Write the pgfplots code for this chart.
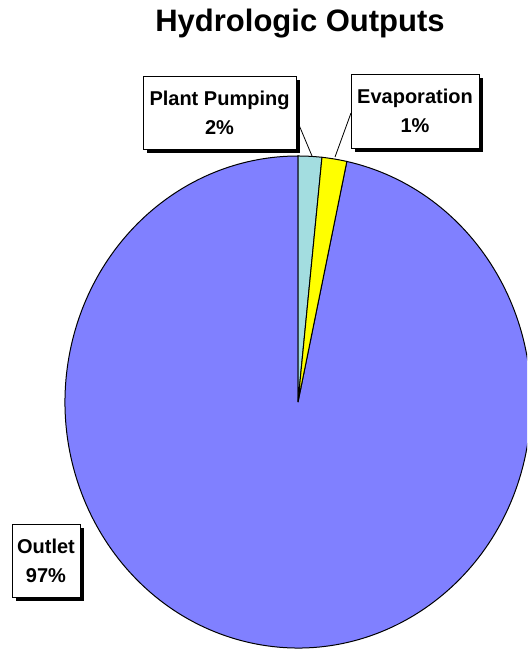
\documentclass[border=0pt]{standalone}
\usepackage{fontspec}
\setmainfont{Liberation Sans}
\usepackage{pgfplots}
\pgfplotsset{compat=1.18}
\definecolor{outletblue}{RGB}{128,128,255}
\definecolor{pumpcyan}{RGB}{163,221,224}
\definecolor{evapyellow}{RGB}{255,255,0}

% shares of the outputs (percent), clockwise from 12 o'clock
\def\vPump{1.64}
\def\vEvap{1.72}
\def\vOutlet{96.64}

\begin{document}
\begin{tikzpicture}
\pgfmathsetmacro{\aA}{90}
\pgfmathsetmacro{\aB}{\aA-\vPump*3.6}
\pgfmathsetmacro{\aC}{\aB-\vEvap*3.6}
\pgfmathsetmacro{\aD}{\aC-\vOutlet*3.6}
\begin{axis}[
  hide axis, scale only axis,
  width=527bp, height=650bp,
  xmin=0, xmax=527, ymin=0, ymax=650,
  clip=true,
]
% pie, slightly taller than wide as in the original
\filldraw[fill=outletblue, draw=black, line width=1bp]
  (axis cs:298,248) -- ++(\aC:233bp and 246bp)
  arc[start angle=\aC, end angle=\aD, x radius=233bp, y radius=246bp] -- cycle;
\filldraw[fill=pumpcyan, draw=black, line width=1bp]
  (axis cs:298,248) -- ++(\aA:233bp and 246bp)
  arc[start angle=\aA, end angle=\aB, x radius=233bp, y radius=246bp] -- cycle;
\filldraw[fill=evapyellow, draw=black, line width=1bp]
  (axis cs:298,248) -- ++(\aB:233bp and 246bp)
  arc[start angle=\aB, end angle=\aC, x radius=233bp, y radius=246bp] -- cycle;

% leader lines
\draw[line width=0.8bp] (axis cs:299,525) -- (axis cs:312,494);
\draw[line width=0.8bp] (axis cs:351,537) -- (axis cs:335,493);

% label boxes with shadows
\fill[black] (axis cs:147,497) rectangle (axis cs:300,570);
\filldraw[fill=white, draw=black, line width=0.8bp] (axis cs:143,501) rectangle (axis cs:296,574);
\fill[black] (axis cs:355,498) rectangle (axis cs:483,572);
\filldraw[fill=white, draw=black, line width=0.8bp] (axis cs:351,502) rectangle (axis cs:479,576);
\fill[black] (axis cs:16,49) rectangle (axis cs:84,122);
\filldraw[fill=white, draw=black, line width=0.8bp] (axis cs:12,53) rectangle (axis cs:80,126);

\node[align=center, font=\fontsize{20bp}{29bp}\selectfont\bfseries] at (axis cs:219.5,537.5) {Plant Pumping\\2\%};
\node[align=center, font=\fontsize{20bp}{29bp}\selectfont\bfseries] at (axis cs:415,539) {Evaporation\\1\%};
\node[align=center, font=\fontsize{20bp}{29bp}\selectfont\bfseries] at (axis cs:46,89.5) {Outlet\\97\%};

% title
\node[anchor=base, font=\fontsize{31bp}{36bp}\selectfont\bfseries] at (axis cs:300,618) {Hydrologic Outputs};
\end{axis}
\pgfresetboundingbox
\path[use as bounding box] (current axis.south west) rectangle (current axis.north east);
\end{tikzpicture}
\end{document}
